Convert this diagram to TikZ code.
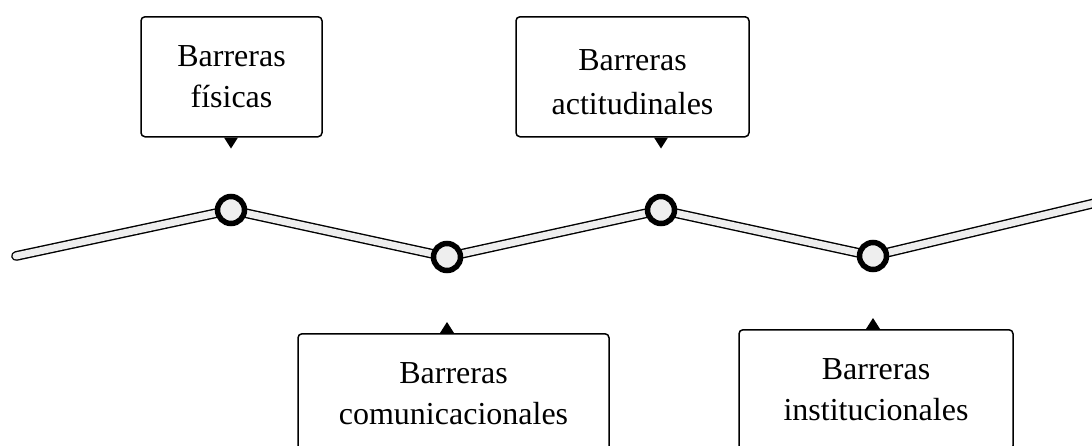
\documentclass[tikz,border=0pt]{standalone}
\usepackage{fontspec}
\setmainfont{Liberation Serif}
\usetikzlibrary{positioning}
\definecolor{railgray}{RGB}{238,238,238}
\tikzset{
	rail/.style={draw=black, line width=1.4pt, double=railgray, double distance=7pt, line cap=round, line join=round},
	dot/.style={circle, draw=black, line width=5.5pt, fill=railgray, minimum size=27pt, inner sep=0pt},
	barrier/.style={draw=black, line width=1.5pt, rounded corners=4pt, align=center, anchor=north, minimum height=120pt, font=\fontsize{32}{41}\selectfont},
	tip/.style={fill=black}
}
\begin{document}
\begin{tikzpicture}[x=1pt,y=-1pt]
			\clip (0,0) rectangle (1092,445);
			% Line
			\coordinate (l) at (16,256);
			\coordinate (p1) at (231,210);
			\coordinate (p2) at (447,257);
			\coordinate (p3) at (661,210);
			\coordinate (p4) at (873,256);
			\coordinate (r) at (1112,199);
			\draw[rail] (l) -- (p1) -- (p2) -- (p3) -- (p4) -- (r);
			\foreach \i in {1,2,3,4} {
				\node[dot] (c\i) at (p\i) {};
			}
			% Boxes
			\node[barrier, minimum width=181pt] (fisicas) at (231.5,16) {Barreras\\físicas};
			\node[barrier, minimum width=233pt, font=\fontsize{32}{44}\selectfont] (actitud) at (632.5,16) {\rule{0pt}{32pt}Barreras\\actitudinales};
			\node[barrier, minimum width=311pt] (comunic) at (453.5,333) {Barreras\\comunicacionales};
			\node[barrier, minimum width=274pt] (instit) at (876,329) {Barreras\\institucionales};
			% Pointers
			\coordinate (t1) at (fisicas.south -| c1);
			\coordinate (t2) at (comunic.north -| c2);
			\coordinate (t3) at (actitud.south -| c3);
			\coordinate (t4) at (instit.north -| c4);
			\fill[tip] ([xshift=-7pt]t1) -- ([xshift=7pt]t1) -- ([yshift=-11pt]t1) -- cycle;
			\fill[tip] ([xshift=-7pt]t3) -- ([xshift=7pt]t3) -- ([yshift=-11pt]t3) -- cycle;
			\fill[tip] ([xshift=-7pt]t2) -- ([xshift=7pt]t2) -- ([yshift=11pt]t2) -- cycle;
			\fill[tip] ([xshift=-7pt]t4) -- ([xshift=7pt]t4) -- ([yshift=11pt]t4) -- cycle;
		\end{tikzpicture}
\end{document}
